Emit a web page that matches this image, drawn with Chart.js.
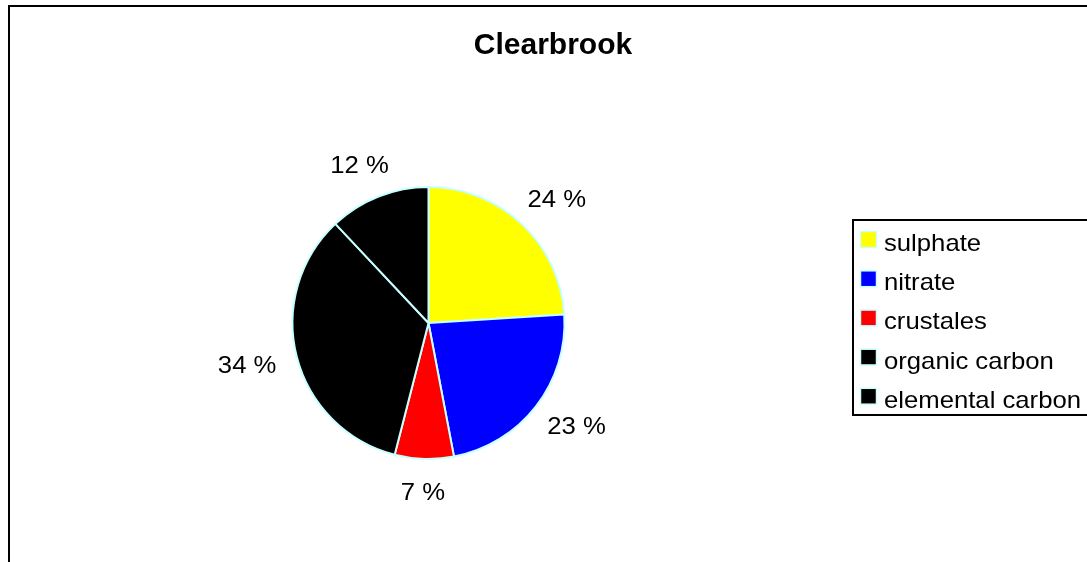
<!DOCTYPE html>
<html>
<head>
<meta charset="utf-8">
<script src="https://cdn.jsdelivr.net/npm/chart.js@4/dist/chart.umd.min.js"></script>
<style>
html,body{margin:0;padding:0;background:#fff;}
canvas{display:block;}
</style>
</head>
<body>
<canvas id="c" width="1087" height="562"></canvas>
<script>
const chartTitle = 'Clearbrook';
const categories = ['sulphate', 'nitrate', 'crustales', 'organic carbon', 'elemental carbon'];
const shares = [24, 23, 7, 34, 12];
const sliceColors = ['#ffff00', '#0000ff', '#ff0000', '#000000', '#000000'];
const edgeColor = '#c8ffff';
const FONT = '"Liberation Sans", Arial, sans-serif';
const SX = 1.07; // slight horizontal text stretch seen in the reference

function stretchedText(ctx, txt, x, y, align) {
  ctx.save();
  const w = ctx.measureText(txt).width * SX;
  let left = x;
  if (align === 'center') left = x - w / 2;
  else if (align === 'right') left = x - w;
  ctx.translate(left, y);
  ctx.scale(SX, 1);
  ctx.textAlign = 'left';
  ctx.fillText(txt, 0, 0);
  ctx.restore();
  return w;
}

const decor = {
  id: 'decor',
  afterDraw(chart) {
    const ctx = chart.ctx;
    ctx.save();
    // outer frame
    ctx.strokeStyle = '#000';
    ctx.lineWidth = 2;
    ctx.strokeRect(9, 6, 2000, 2000);
    // title
    ctx.fillStyle = '#000';
    ctx.font = 'bold 30px ' + FONT;
    ctx.textBaseline = 'alphabetic';
    ctx.textAlign = 'center';
    ctx.fillText(chartTitle, 553, 54);

    // data labels
    const meta = chart.getDatasetMeta(0);
    ctx.font = '24px ' + FONT;
    ctx.textBaseline = 'middle';
    meta.data.forEach((arc, i) => {
      const m = (arc.startAngle + arc.endAngle) / 2;
      const c = Math.cos(m), s = Math.sin(m);
      const r = arc.outerRadius + 22;
      const txt = shares[i] + ' %';
      const w = ctx.measureText(txt).width * SX;
      const h = 22;
      const px = arc.x + r * c + (w / 2) * c;
      const py = arc.y + r * s + (h / 2) * s;
      ctx.fillStyle = '#000';
      stretchedText(ctx, txt, px, py + 1, 'center');
    });

    // legend
    ctx.lineWidth = 2;
    ctx.strokeStyle = '#000';
    ctx.strokeRect(853, 220, 400, 195);
    ctx.font = '24px ' + FONT;
    ctx.textBaseline = 'alphabetic';
    categories.forEach((name, i) => {
      const yb = 251 + i * 39.2;
      ctx.fillStyle = sliceColors[i];
      ctx.fillRect(861, yb - 19, 15, 15);
      ctx.lineWidth = 1.5;
      ctx.strokeStyle = edgeColor;
      ctx.strokeRect(860.5, yb - 19.5, 16, 16);
      ctx.fillStyle = '#000';
      stretchedText(ctx, name, 884, yb, 'left');
    });
    ctx.restore();
  }
};

new Chart(document.getElementById('c'), {
  type: 'pie',
  data: {
    labels: categories,
    datasets: [{
      data: shares,
      backgroundColor: sliceColors,
      borderColor: edgeColor,
      borderWidth: 2
    }]
  },
  options: {
    responsive: false,
    animation: false,
    layout: { padding: { left: 291, right: 521, top: 186, bottom: 102 } },
    plugins: {
      legend: { display: false },
      title: { display: false },
      tooltip: { enabled: false }
    }
  },
  plugins: [decor]
});
</script>
</body>
</html>
